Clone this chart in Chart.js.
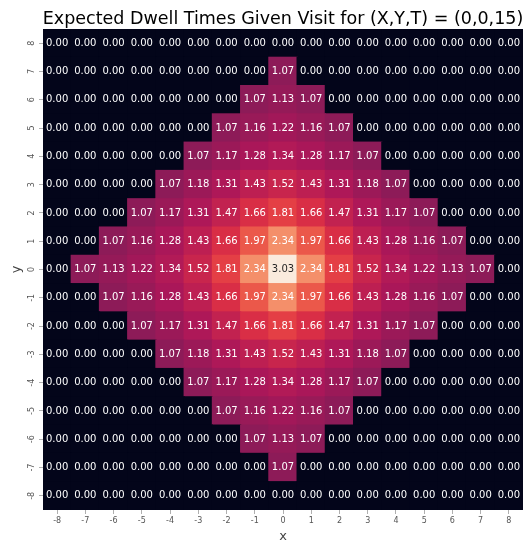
<!DOCTYPE html>
<html>
<head>
<meta charset="utf-8">
<script src="https://cdn.jsdelivr.net/npm/chart.js@4.4.1/dist/chart.umd.min.js"></script>
<style>
  html, body { margin: 0; padding: 0; background: #fff; }
  #wrap { width: 527px; height: 544px; }
</style>
</head>
<body>
<div id="wrap"><canvas id="heat"></canvas></div>
<script>
// axis labels
const xLabels = [-8, -7, -6, -5, -4, -3, -2, -1, 0, 1, 2, 3, 4, 5, 6, 7, 8];
const yLabels = [8, 7, 6, 5, 4, 3, 2, 1, 0, -1, -2, -3, -4, -5, -6, -7, -8]; // top to bottom

// dwell times, one row per y, top (y=8) to bottom (y=-8)
const rowY8  = [0, 0, 0, 0, 0, 0, 0, 0, 0, 0, 0, 0, 0, 0, 0, 0, 0];
const rowY7  = [0, 0, 0, 0, 0, 0, 0, 0, 1.07, 0, 0, 0, 0, 0, 0, 0, 0];
const rowY6  = [0, 0, 0, 0, 0, 0, 0, 1.07, 1.13, 1.07, 0, 0, 0, 0, 0, 0, 0];
const rowY5  = [0, 0, 0, 0, 0, 0, 1.07, 1.16, 1.22, 1.16, 1.07, 0, 0, 0, 0, 0, 0];
const rowY4  = [0, 0, 0, 0, 0, 1.07, 1.17, 1.28, 1.34, 1.28, 1.17, 1.07, 0, 0, 0, 0, 0];
const rowY3  = [0, 0, 0, 0, 1.07, 1.18, 1.31, 1.43, 1.52, 1.43, 1.31, 1.18, 1.07, 0, 0, 0, 0];
const rowY2  = [0, 0, 0, 1.07, 1.17, 1.31, 1.47, 1.66, 1.81, 1.66, 1.47, 1.31, 1.17, 1.07, 0, 0, 0];
const rowY1  = [0, 0, 1.07, 1.16, 1.28, 1.43, 1.66, 1.97, 2.34, 1.97, 1.66, 1.43, 1.28, 1.16, 1.07, 0, 0];
const rowY0  = [0, 1.07, 1.13, 1.22, 1.34, 1.52, 1.81, 2.34, 3.03, 2.34, 1.81, 1.52, 1.34, 1.22, 1.13, 1.07, 0];
const rowYm1 = [0, 0, 1.07, 1.16, 1.28, 1.43, 1.66, 1.97, 2.34, 1.97, 1.66, 1.43, 1.28, 1.16, 1.07, 0, 0];
const rowYm2 = [0, 0, 0, 1.07, 1.17, 1.31, 1.47, 1.66, 1.81, 1.66, 1.47, 1.31, 1.17, 1.07, 0, 0, 0];
const rowYm3 = [0, 0, 0, 0, 1.07, 1.18, 1.31, 1.43, 1.52, 1.43, 1.31, 1.18, 1.07, 0, 0, 0, 0];
const rowYm4 = [0, 0, 0, 0, 0, 1.07, 1.17, 1.28, 1.34, 1.28, 1.17, 1.07, 0, 0, 0, 0, 0];
const rowYm5 = [0, 0, 0, 0, 0, 0, 1.07, 1.16, 1.22, 1.16, 1.07, 0, 0, 0, 0, 0, 0];
const rowYm6 = [0, 0, 0, 0, 0, 0, 0, 1.07, 1.13, 1.07, 0, 0, 0, 0, 0, 0, 0];
const rowYm7 = [0, 0, 0, 0, 0, 0, 0, 0, 1.07, 0, 0, 0, 0, 0, 0, 0, 0];
const rowYm8 = [0, 0, 0, 0, 0, 0, 0, 0, 0, 0, 0, 0, 0, 0, 0, 0, 0];

const rows = [rowY8, rowY7, rowY6, rowY5, rowY4, rowY3, rowY2, rowY1, rowY0,
              rowYm1, rowYm2, rowYm3, rowYm4, rowYm5, rowYm6, rowYm7, rowYm8];

// seaborn "rocket" colormap, sampled
const rocket = [
  [0.000, [3, 5, 26]],
  [0.143, [53, 25, 62]],
  [0.286, [112, 31, 87]],
  [0.429, [173, 23, 89]],
  [0.571, [225, 51, 66]],
  [0.714, [243, 118, 81]],
  [0.857, [246, 180, 143]],
  [1.000, [250, 235, 221]]
];
const vmax = Math.max(...rows.map(r => Math.max(...r)));

function rocketRgb(v) {
  const t = Math.max(0, Math.min(1, v / vmax));
  for (let i = 1; i < rocket.length; i++) {
    if (t <= rocket[i][0]) {
      const [t0, c0] = rocket[i - 1];
      const [t1, c1] = rocket[i];
      const f = (t - t0) / (t1 - t0);
      return c0.map((c, k) => Math.round(c + (c1[k] - c) * f));
    }
  }
  return rocket[rocket.length - 1][1];
}
function rocketColor(v) {
  const c = rocketRgb(v);
  return 'rgb(' + c.join(',') + ')';
}
function textColor(v) {
  const lum = rocketRgb(v).map(c => {
    c = c / 255;
    return c <= 0.03928 ? c / 12.92 : Math.pow((c + 0.055) / 1.055, 2.4);
  });
  const L = 0.2126 * lum[0] + 0.7152 * lum[1] + 0.0722 * lum[2];
  return L > 0.408 ? '#262626' : '#ffffff';
}

// stacked bars from the bottom row up, every cell one unit tall
const bottomUp = rows.slice().reverse();
const yBottomUp = yLabels.slice().reverse();
const datasets = bottomUp.map((row, i) => ({
  label: 'y=' + yBottomUp[i],
  data: row.map(() => 1),
  values: row,
  backgroundColor: row.map(rocketColor),
  borderWidth: 0,
  inflateAmount: 0.6,
  barPercentage: 1,
  categoryPercentage: 1
}));

const cellText = {
  id: 'cellText',
  afterDatasetsDraw(chart) {
    const ctx = chart.ctx;
    ctx.save();
    ctx.font = '10px "DejaVu Sans"';
    ctx.textAlign = 'center';
    ctx.textBaseline = 'middle';
    chart.data.datasets.forEach((ds, i) => {
      chart.getDatasetMeta(i).data.forEach((bar, j) => {
        const v = ds.values[j];
        ctx.fillStyle = textColor(v);
        ctx.fillText(v.toFixed(2), bar.x, (bar.y + bar.base) / 2);
      });
    });
    ctx.restore();
  }
};

const heatTitle = {
  id: 'heatTitle',
  afterDraw(chart) {
    const ctx = chart.ctx;
    const a = chart.chartArea;
    ctx.save();
    ctx.font = '17.5px "DejaVu Sans"';
    ctx.fillStyle = '#000';
    ctx.textAlign = 'center';
    ctx.textBaseline = 'alphabetic';
    ctx.fillText('Expected Dwell Times Given Visit for (X,Y,T) = (0,0,15)', (a.left + a.right) / 2, 24);
    ctx.restore();
  }
};

new Chart(document.getElementById('heat'), {
  type: 'bar',
  data: { labels: xLabels, datasets: datasets },
  options: {
    responsive: true,
    maintainAspectRatio: false,
    animation: false,
    layout: { padding: { top: 29, right: 4, left: 0, bottom: 0 } },
    plugins: {
      legend: { display: false },
      tooltip: { enabled: false }
    },
    scales: {
      x: {
        stacked: true,
        offset: true,
        border: { display: false },
        grid: { offset: false, drawOnChartArea: false, drawTicks: true, tickLength: 4, tickColor: '#b0b0b0' },
        ticks: { color: '#555', font: { family: 'DejaVu Sans', size: 8 }, padding: 2, maxRotation: 0, minRotation: 0 },
        title: { display: true, text: 'x', color: '#444', font: { family: 'DejaVu Sans', size: 13 }, padding: { top: 0, bottom: 0 } },
        afterFit(axis) { axis.height = 34; }
      },
      y: {
        stacked: true,
        min: 0,
        max: 17,
        border: { display: false },
        grid: { drawOnChartArea: false, drawTicks: true, tickLength: 4, tickColor: '#b0b0b0' },
        afterBuildTicks(axis) {
          axis.ticks = yBottomUp.map((v, i) => ({ value: i + 0.5 }));
        },
        ticks: {
          color: '#555',
          font: { family: 'DejaVu Sans', size: 8 },
          padding: 3,
          minRotation: 90,
          maxRotation: 90,
          crossAlign: 'center',
          callback: (value) => String(yBottomUp[Math.floor(value)])
        },
        title: { display: true, text: 'y', color: '#444', font: { family: 'DejaVu Sans', size: 13 }, padding: { top: 9, bottom: 0 } },
        afterFit(axis) { axis.width = 43; }
      }
    }
  },
  plugins: [cellText, heatTitle]
});
</script>
</body>
</html>
